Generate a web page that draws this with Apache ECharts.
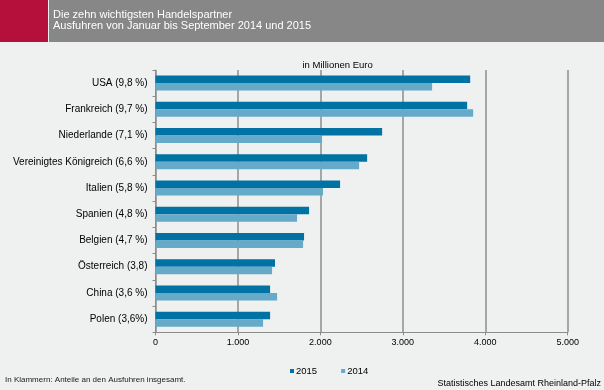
<!DOCTYPE html>
<html>
<head>
<meta charset="utf-8">
<script src="https://cdn.jsdelivr.net/npm/echarts@6/dist/echarts.min.js"></script>
<style>
html,body{margin:0;padding:0;background:#eff0f0;}
#c{width:604px;height:390px;}
</style>
</head>
<body>
<div id="c"></div>
<script>
const categories = ['USA (9,8 %)','Frankreich (9,7 %)','Niederlande (7,1 %)','Vereinigtes Königreich (6,6 %)','Italien (5,8 %)','Spanien (4,8 %)','Belgien (4,7 %)','Österreich (3,8)','China (3,6 %)','Polen (3,6%)'];
const values2015 = [3817, 3780, 2749, 2567, 2239, 1863, 1802, 1450, 1390, 1390];
const values2014 = [3355, 3853, 2020, 2470, 2032, 1717, 1790, 1414, 1475, 1305];
const xTicks = [0, 1000, 2000, 3000, 4000, 5000];
const titleLines = ['Die zehn wichtigsten Handelspartner', 'Ausfuhren von Januar bis September 2014 und 2015'];
const unitText = 'in Millionen Euro';
const noteText = 'In Klammern: Anteile an den Ausfuhren insgesamt.';
const sourceText = 'Statistisches Landesamt Rheinland-Pfalz';

const FONT = 'Liberation Sans, Arial, sans-serif';
const chart = echarts.init(document.getElementById('c'));
chart.setOption({
  backgroundColor: '#eff0f0',
  animation: false,
  textStyle: {fontFamily: FONT},
  graphic: [
    {type:'rect', shape:{x:0,y:0,width:48,height:42}, style:{fill:'#b5103c'}},
    {type:'rect', shape:{x:49,y:0,width:555,height:42}, style:{fill:'#878787'}},
    {type:'text', left:53, top:9, style:{text:titleLines[0], fill:'#ffffff', font:'11px ' + FONT}},
    {type:'text', left:53, top:20.5, style:{text:titleLines[1], fill:'#ffffff', font:'11px ' + FONT}},
    {type:'text', left:302.5, top:60, style:{text:unitText, fill:'#000000', font:'9.5px ' + FONT, align:'center', verticalAlign:'middle'}},
    {type:'text', left:5, top:375.5, style:{text:noteText, fill:'#1a1a1a', font:'8px ' + FONT}},
    {type:'text', right:3, top:379, style:{text:sourceText, fill:'#000000', font:'9px ' + FONT}}
  ],
  legend: {
    data: ['2015','2014'],
    left: 285, top: 361,
    icon: 'rect', itemWidth: 4, itemHeight: 4, itemGap: 24,
    textStyle: {fontSize: 9.5, color: '#000', padding:[0,0,0,-3], fontFamily: FONT}
  },
  grid: {left: 155.5, right: 36.3, top: 70, bottom: 57.7},
  xAxis: {
    type: 'value', min: 0, max: 5000, interval: 1000,
    axisLine: {show: true, lineStyle: {color: '#8c8c8c', width: 1}},
    axisTick: {show: true, length: 3, lineStyle: {color: '#8c8c8c'}},
    axisLabel: {fontSize: 9, color: '#000', margin: 6, formatter: v => xTicks.includes(v) ? (v === 0 ? '0' : Math.floor(v/1000) + '.' + String(v%1000).padStart(3,'0')) : ''},
    splitLine: {show: true, lineStyle: {color: '#a6a6a6', width: 2}}
  },
  yAxis: {
    type: 'category', data: categories, inverse: true,
    axisLine: {show: true, lineStyle: {color: '#8c8c8c', width: 1}},
    axisTick: {show: true, length: 3, alignWithLabel: false, lineStyle: {color: '#8c8c8c'}},
    axisLabel: {fontSize: 10, color: '#000', margin: 8}
  },
  series: [
    {name:'2015', type:'bar', data: values2015, barWidth: 7.5, barGap: '0%', itemStyle:{color:'#0072a4'}},
    {name:'2014', type:'bar', data: values2014, barWidth: 7.5, barGap: '0%', itemStyle:{color:'#65aac9'}}
  ]
});
</script>
</body>
</html>
